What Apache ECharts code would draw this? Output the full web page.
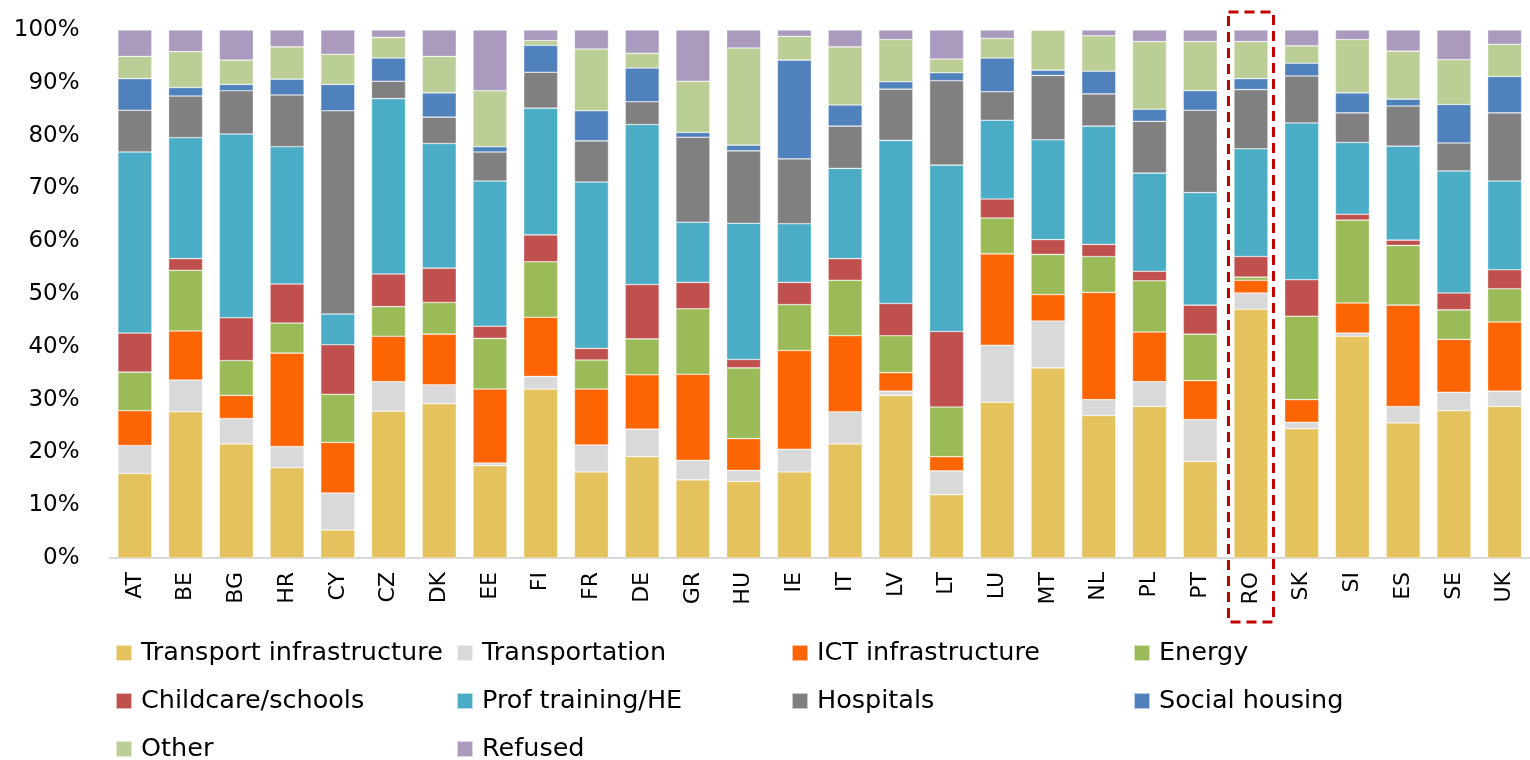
<!DOCTYPE html>
<html>
<head>
<meta charset="utf-8">
<title>Investment priorities by country</title>
<script src="https://cdn.jsdelivr.net/npm/echarts@6/dist/echarts.min.js"></script>
<style>
    html, body { margin: 0; padding: 0; background: #fff; }
    #main { width: 1530px; height: 760px; }
</style>
</head>
<body>
<div id="main"></div>
<script>
// countries (x axis)
var countries = ['AT', 'BE', 'BG', 'HR', 'CY', 'CZ', 'DK', 'EE', 'FI', 'FR', 'DE', 'GR', 'HU', 'IE',
    'IT', 'LV', 'LT', 'LU', 'MT', 'NL', 'PL', 'PT', 'RO', 'SK', 'SI', 'ES', 'SE', 'UK'];
var yTicks = [0, 10, 20, 30, 40, 50, 60, 70, 80, 90, 100];

// shares per category, in %
var transportInfra = [16.0, 27.7, 21.6, 17.1, 5.3, 27.8, 29.2, 17.5, 32.0, 16.3, 19.2, 14.8, 14.5, 16.3, 21.6, 30.8, 12.0, 29.5, 36.0, 27.0, 28.7, 18.3, 47.1, 24.5, 42.0, 25.6, 27.9, 28.7];
var transportation = [5.3, 6.0, 4.8, 4.0, 7.0, 5.6, 3.6, 0.5, 2.4, 5.1, 5.2, 3.7, 2.1, 4.3, 6.1, 0.8, 4.5, 10.8, 8.9, 3.0, 4.7, 7.9, 3.1, 1.2, 0.6, 3.1, 3.5, 2.9];
var ictInfra = [6.6, 9.3, 4.4, 17.7, 9.6, 8.6, 9.6, 14.0, 11.2, 10.6, 10.3, 16.3, 6.0, 18.7, 14.4, 3.5, 2.7, 17.3, 5.0, 20.3, 9.4, 7.4, 2.4, 4.3, 5.7, 19.2, 10.0, 13.1];
var energy = [7.3, 11.5, 6.6, 5.7, 9.1, 5.6, 6.0, 9.6, 10.5, 5.5, 6.8, 12.4, 13.4, 8.7, 10.5, 7.0, 9.4, 6.8, 7.6, 6.8, 9.7, 8.8, 0.6, 15.8, 15.7, 11.3, 5.6, 6.3];
var childcare = [7.4, 2.2, 8.1, 7.4, 9.4, 6.2, 6.5, 2.3, 5.1, 2.2, 10.3, 5.0, 1.6, 4.2, 4.1, 6.1, 14.3, 3.6, 2.8, 2.3, 1.8, 5.5, 3.9, 6.9, 1.1, 1.0, 3.2, 3.6];
var profTraining = [34.3, 22.9, 34.8, 26.0, 5.8, 33.2, 23.6, 27.5, 24.0, 31.5, 30.3, 11.4, 25.8, 11.1, 17.1, 30.9, 31.5, 14.9, 18.9, 22.4, 18.6, 21.3, 20.4, 29.7, 13.6, 17.8, 23.1, 16.8];
var hospitals = [7.9, 7.9, 8.2, 9.8, 38.5, 3.3, 5.0, 5.5, 6.8, 7.8, 4.3, 16.1, 13.7, 12.3, 8.0, 9.7, 16.0, 5.4, 12.2, 6.1, 9.8, 15.6, 11.2, 8.9, 5.6, 7.6, 5.3, 12.9];
var socialHousing = [6.0, 1.6, 1.2, 3.0, 5.0, 4.4, 4.6, 1.0, 5.1, 5.7, 6.4, 0.9, 1.1, 18.7, 4.0, 1.4, 1.5, 6.4, 1.0, 4.3, 2.3, 3.7, 2.1, 2.4, 3.8, 1.3, 7.3, 6.9];
var other = [4.2, 6.8, 4.6, 6.1, 5.7, 3.9, 6.9, 10.6, 0.9, 11.7, 2.8, 9.7, 18.4, 4.5, 11.0, 8.0, 2.6, 3.7, 7.6, 6.7, 12.8, 9.3, 7.0, 3.3, 10.1, 9.1, 8.5, 6.1];
var refused = [5.0, 4.1, 5.7, 3.2, 4.6, 1.4, 5.0, 11.5, 2.0, 3.6, 4.4, 9.7, 3.4, 1.2, 3.2, 1.8, 5.5, 1.6, 0, 1.1, 2.2, 2.2, 2.2, 3.0, 1.8, 4.0, 5.6, 2.7];

var highlighted = 'RO';

var seriesDefs = [
    ['Transport infrastructure', transportInfra, '#E4C25E'],
    ['Transportation', transportation, '#D9D9D9'],
    ['ICT infrastructure', ictInfra, '#FC6404'],
    ['Energy', energy, '#9BBB59'],
    ['Childcare/schools', childcare, '#C0504D'],
    ['Prof training/HE', profTraining, '#4BACC6'],
    ['Hospitals', hospitals, '#808080'],
    ['Social housing', socialHousing, '#4F81BD'],
    ['Other', other, '#BBCE95'],
    ['Refused', refused, '#A99ABE']
];

var FONT = 'DejaVu Sans';

// legend laid out in 4 columns, like the original
var legendCols = [
    { left: 115, data: ['Transport infrastructure', 'Childcare/schools', 'Other'] },
    { left: 456, data: ['Transportation', 'Prof training/HE', 'Refused'] },
    { left: 791, data: ['ICT infrastructure', 'Hospitals'] },
    { left: 1133, data: ['Energy', 'Social housing'] }
];

var chart = echarts.init(document.getElementById('main'));

var option = {
    backgroundColor: '#ffffff',
    animation: false,
    grid: { left: 109.5, right: -10.5, top: 30, bottom: 202, containLabel: false },
    legend: legendCols.map(function (c) {
        return {
            orient: 'vertical',
            left: c.left,
            top: 640,
            height: 150,
            padding: 0,
            itemGap: 22,
            itemWidth: 16,
            itemHeight: 16,
            icon: 'rect',
            data: c.data,
            textStyle: { fontFamily: FONT, fontSize: 25.5, color: '#000', lineHeight: 26, padding: [0, 0, 0, 4] }
        };
    }),
    xAxis: {
        type: 'category',
        data: countries,
        axisLine: { lineStyle: { color: '#D9D9D9', width: 2 } },
        axisTick: { show: false },
        axisLabel: { rotate: 90, margin: 14, color: '#000', fontFamily: FONT, fontSize: 22 }
    },
    yAxis: {
        type: 'value',
        min: yTicks[0],
        max: yTicks[yTicks.length - 1],
        interval: yTicks[1] - yTicks[0],
        axisLine: { show: false },
        axisTick: { show: false },
        splitLine: { show: false },
        axisLabel: { formatter: '{value}%', margin: 30, color: '#000', fontFamily: FONT, fontSize: 23 }
    },
    series: seriesDefs.map(function (d) {
        return {
            name: d[0],
            type: 'bar',
            stack: 'total',
            barWidth: 34,
            data: d[1],
            itemStyle: { color: d[2], borderColor: 'rgba(255,255,255,0.6)', borderWidth: 0.6 }
        };
    })
};

chart.setOption(option);

// dashed red frame around the highlighted country
var cx = chart.convertToPixel({ xAxisIndex: 0 }, highlighted);
chart.setOption({
    graphic: [{
        type: 'rect',
        shape: { x: cx - 22.5, y: 12, width: 45, height: 610 },
        style: { fill: null, stroke: '#C00000', lineWidth: 3, lineDash: [10, 6] },
        z: 100
    }]
});
</script>
</body>
</html>
